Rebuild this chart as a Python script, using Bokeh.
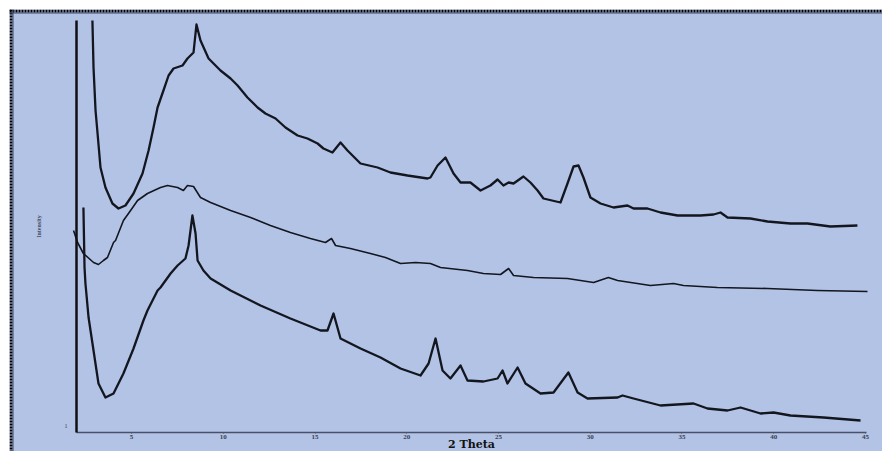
from bokeh.plotting import figure
from bokeh.models import Range1d, LinearAxis, FixedTicker, Span
from bokeh.embed import file_html
from bokeh.resources import INLINE

# ---- data (2 Theta in degrees, intensity in arbitrary units) ----
two_theta_top = [2.87, 2.93, 3.04, 3.15, 3.31, 3.58, 3.96, 4.29, 4.67, 5.11, 5.60, 5.93, 6.20, 6.42,
                 6.74, 7.02, 7.29, 7.78, 8.05, 8.38, 8.54, 8.76, 9.20, 9.85, 10.40, 10.78, 11.32,
                 11.87, 12.30, 12.85, 13.39, 14.05, 14.59, 15.14, 15.46, 15.95, 16.39, 16.77, 17.48,
                 18.41, 19.11, 20.04, 21.13, 21.29, 21.68, 22.11, 22.55, 22.93, 23.47, 24.02, 24.56,
                 24.95, 25.27, 25.55, 25.82, 26.36, 26.74, 27.13, 27.45, 28.38, 28.76, 29.09, 29.36,
                 29.63, 30.01, 30.56, 31.27, 32.03, 32.36, 33.12, 33.83, 34.76, 36.01, 36.72, 37.10,
                 37.48, 38.73, 39.66, 40.91, 41.84, 43.09, 44.56]
intensity_top = [103.0, 91.25, 80.5, 74.75, 66.25, 61.25, 57.25, 56.0, 56.75, 59.75, 64.75, 70.5, 76.25,
                 81.25, 85.5, 89.25, 91.0, 91.75, 93.5, 95.0, 102.0, 98.0, 93.5, 90.5, 88.5, 86.75,
                 83.75, 81.25, 79.75, 78.5, 76.25, 74.25, 73.5, 72.25, 71.0, 70.0, 72.5, 70.5, 67.25,
                 66.25, 65.0, 64.25, 63.5, 63.75, 66.75, 68.75, 64.75, 62.5, 62.5, 60.5, 61.75, 63.25,
                 61.75, 62.5, 62.25, 64.0, 62.5, 60.5, 58.5, 57.5, 62.25, 66.5, 66.75, 63.75, 58.75,
                 57.25, 56.25, 56.75, 56.0, 56.0, 55.0, 54.25, 54.25, 54.5, 55.0, 53.75, 53.5, 52.75,
                 52.25, 52.25, 51.5, 51.75]

two_theta_mid = [1.84, 2.06, 2.38, 2.93, 3.20, 3.47, 3.69, 4.02, 4.13, 4.56, 4.95, 5.33, 5.87, 6.58,
                 6.96, 7.51, 7.83, 8.05, 8.38, 8.76, 9.31, 10.40, 11.49, 12.57, 13.66, 14.75, 15.57,
                 15.90, 16.12, 16.93, 18.02, 18.84, 19.66, 20.48, 21.29, 21.84, 23.31, 24.18, 25.11,
                 25.55, 25.82, 26.91, 28.76, 30.18, 30.99, 31.49, 33.28, 34.54, 35.08, 36.93, 39.66,
                 42.38, 45.11]
intensity_mid = [50.5, 47.5, 44.75, 42.5, 42.0, 43.0, 43.75, 47.5, 48.0, 53.0, 55.5, 58.0, 59.75, 61.25,
                 61.75, 61.25, 60.5, 61.75, 61.5, 58.75, 57.5, 55.5, 53.75, 51.75, 50.0, 48.5, 47.5,
                 48.5, 46.75, 46.0, 44.75, 43.75, 42.25, 42.5, 42.25, 41.25, 40.5, 39.75, 39.5, 41.0,
                 39.25, 38.75, 38.5, 37.5, 38.75, 38.0, 36.75, 37.25, 36.75, 36.25, 36.0, 35.5, 35.25]

two_theta_bot = [2.38, 2.44, 2.49, 2.66, 2.93, 3.20, 3.58, 4.02, 4.56, 5.11, 5.65, 5.87, 6.42, 6.58,
                 7.13, 7.51, 7.94, 8.11, 8.32, 8.49, 8.60, 8.92, 9.31, 10.40, 12.03, 13.66, 15.30,
                 15.68, 16.01, 16.39, 17.48, 18.57, 19.66, 20.75, 21.19, 21.57, 21.95, 22.38, 22.93,
                 23.31, 24.18, 24.95, 25.22, 25.49, 26.04, 26.47, 27.29, 28.00, 28.81, 29.31, 29.85,
                 31.49, 31.76, 32.36, 33.83, 35.63, 36.39, 37.48, 38.19, 39.28, 39.99, 40.91, 42.71,
                 44.73]
intensity_bot = [56.25, 41.25, 37.25, 28.75, 20.5, 12.25, 8.75, 9.75, 14.75, 21.0, 28.0, 30.5, 35.5,
                 36.25, 39.75, 41.75, 43.5, 46.75, 54.25, 49.75, 43.0, 40.5, 38.5, 35.5, 31.75, 28.5,
                 25.5, 25.5, 29.75, 23.5, 21.0, 18.75, 16.0, 14.25, 17.25, 23.5, 15.5, 13.5, 16.75,
                 13.0, 12.75, 13.5, 15.5, 12.25, 16.25, 12.25, 9.75, 10.0, 15.0, 10.0, 8.5, 8.75, 9.25,
                 8.5, 6.75, 7.25, 6.0, 5.5, 6.25, 4.75, 5.0, 4.25, 3.75, 3.0]

x_ticks = [5, 10, 15, 20, 25, 30, 35, 40, 45]
x_tick_labels = ["5", "10", "15", "20", "25", "30", "35", "40", "45"]
y_ticks = [1.75]
y_tick_labels = ["1"]
x_title = "2 Theta"
y_title = "Intensity"

BG = "#b2c3e6"
INK = "#14161f"

X0, X1 = -1.649, 45.927
Y0, Y1 = -4.75, 105.75
W, H = 882, 451
M = 9  # white page margin of the scan (top / left)

p = figure(width=W, height=H, output_backend="svg", toolbar_location=None,
           x_range=Range1d(X0, X1), y_range=Range1d(Y0, Y1),
           x_axis_type=None, y_axis_type=None,
           min_border_left=M, min_border_right=0, min_border_top=M, min_border_bottom=0)
p.background_fill_color = BG
p.border_fill_color = "white"
p.outline_line_color = None

# axes drawn at fixed data locations inside the frame
xaxis = LinearAxis(fixed_location=0, bounds=(2.0, 45.05),
                   ticker=FixedTicker(ticks=x_ticks),
                   major_label_overrides={t: l for t, l in zip(x_ticks, x_tick_labels)},
                   axis_label=x_title)
xaxis.axis_line_color = "#4a5068"
xaxis.axis_line_width = 1.5
xaxis.major_tick_line_color = "#4a5068"
xaxis.major_tick_in = 0
xaxis.major_tick_out = 1
xaxis.minor_tick_line_color = None
xaxis.major_label_text_font = "Liberation Serif"
xaxis.major_label_text_font_size = "7px"
xaxis.major_label_text_font_style = "bold"
xaxis.major_label_text_color = "#3a3f55"
xaxis.major_label_standoff = 1
xaxis.axis_label_text_font = "DejaVu Serif"
xaxis.axis_label_text_font_style = "bold"
xaxis.axis_label_text_font_size = "11px"
xaxis.axis_label_text_color = "#111111"
xaxis.axis_label_standoff = -4
p.add_layout(xaxis, "below")

yaxis = LinearAxis(fixed_location=2.0, bounds=(0, 103),
                   ticker=FixedTicker(ticks=y_ticks),
                   major_label_overrides={t: l for t, l in zip(y_ticks, y_tick_labels)},
                   axis_label=y_title)
yaxis.axis_line_color = "#101010"
yaxis.axis_line_width = 2.5
yaxis.major_tick_line_color = None
yaxis.minor_tick_line_color = None
yaxis.major_label_text_font = "Liberation Serif"
yaxis.major_label_text_font_size = "6px"
yaxis.major_label_text_color = "#3a3f55"
yaxis.major_label_standoff = 3
yaxis.axis_label_text_font = "Liberation Serif"
yaxis.axis_label_text_font_style = "bold"
yaxis.axis_label_text_font_size = "6px"
yaxis.axis_label_text_color = "#4a4f60"
yaxis.axis_label_standoff = 20
p.add_layout(yaxis, "left")

# curves
p.line(two_theta_top, intensity_top, line_width=2.3, line_color=INK, line_join="round")
p.line(two_theta_mid, intensity_mid, line_width=1.6, line_color=INK, line_join="round")
p.line(two_theta_bot, intensity_bot, line_width=2.3, line_color=INK, line_join="round")

# scanned-page border (top and left edges)
px_x = (W - M) / (X1 - X0)
px_y = (H - M) / (Y1 - Y0)
p.add_layout(Span(location=X0 + 1.5 / px_x, dimension="height", line_color="black",
                  line_width=3, line_dash="2 1"))
p.add_layout(Span(location=Y1 - 1.5 / px_y, dimension="width", line_color="black",
                  line_width=3, line_dash="2 1"))
p.add_layout(Span(location=X0 + 3.5 / px_x, dimension="height", line_color="#3c4460",
                  line_width=1))
p.add_layout(Span(location=Y1 - 3.5 / px_y, dimension="width", line_color="#3c4460",
                  line_width=1))

open("out.html", "w").write(file_html(p, INLINE))
